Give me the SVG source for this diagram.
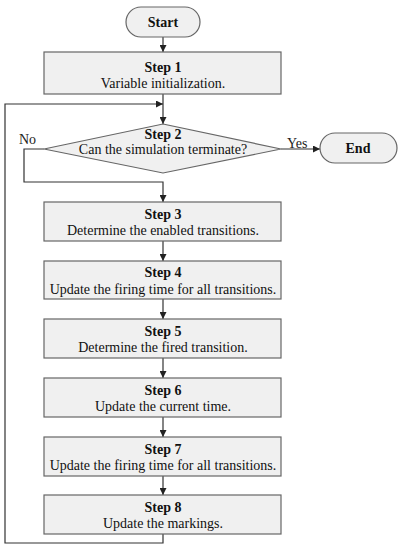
<svg xmlns="http://www.w3.org/2000/svg" width="402" height="550" viewBox="0 0 402 550">
<defs>
<marker id="ah" viewBox="0 0 10 10" refX="10" refY="5" markerWidth="7" markerHeight="7" markerUnits="userSpaceOnUse" orient="auto">
<path d="M0,0 L10,5 L0,10 z" fill="#222"/>
</marker>
<style>
.box{fill:#f0f0f0;stroke:#666;stroke-width:1.2}
.t{font-family:"Liberation Serif","Times New Roman",serif;font-size:14px;fill:#111;text-anchor:middle}
.b{font-weight:bold}
.l{font-family:"Liberation Serif","Times New Roman",serif;font-size:14px;fill:#222}
.c{fill:none;stroke:#555;stroke-width:1.2}
.ca{fill:none;stroke:#333;stroke-width:1.2;marker-end:url(#ah)}
</style>
</defs>
<rect width="402" height="550" fill="#fff"/>
<g id="connectors">
<line class="ca" x1="163" y1="37" x2="163" y2="52"/>
<line class="ca" x1="163" y1="94" x2="163" y2="124"/>
<polyline class="ca" points="163,534 163,543 5,543 5,104 163,104"/>
<polyline class="ca" points="44,149 24,149 24,182 163,182 163,202"/>
<line class="ca" x1="281" y1="149" x2="320" y2="149"/>
<line class="ca" x1="163" y1="241" x2="163" y2="261"/>
<line class="ca" x1="163" y1="299" x2="163" y2="319"/>
<line class="ca" x1="163" y1="358" x2="163" y2="378"/>
<line class="ca" x1="163" y1="417" x2="163" y2="437"/>
<line class="ca" x1="163" y1="476" x2="163" y2="495"/>
<text class="l" x="19" y="144">No</text>
<text class="l" x="287" y="148">Yes</text>
</g>
<g id="start">
<rect class="box" x="126" y="7" width="74" height="30" rx="15"/>
<text class="t b" x="163" y="27">Start</text>
</g>
<g id="step1">
<rect class="box" x="44" y="52" width="237" height="42"/>
<text class="t b" x="163" y="72">Step 1</text>
<text class="t" x="163" y="88">Variable initialization.</text>
</g>
<g id="step2">
<polygon class="box" points="163,124 281,149 163,173 44,149"/>
<text class="t b" x="163" y="139">Step 2</text>
<text class="t" x="163" y="154">Can the simulation terminate?</text>
</g>
<g id="end">
<rect class="box" x="320" y="133" width="77" height="30" rx="15"/>
<text class="t b" x="358" y="153">End</text>
</g>
<g id="step3">
<rect class="box" x="44" y="202" width="237" height="39"/>
<text class="t b" x="163" y="219">Step 3</text>
<text class="t" x="163" y="235">Determine the enabled transitions.</text>
</g>
<g id="step4">
<rect class="box" x="44" y="261" width="237" height="38"/>
<text class="t b" x="163" y="277">Step 4</text>
<text class="t" x="163" y="294">Update the firing time for all transitions.</text>
</g>
<g id="step5">
<rect class="box" x="44" y="319" width="237" height="39"/>
<text class="t b" x="163" y="336">Step 5</text>
<text class="t" x="163" y="352">Determine the fired transition.</text>
</g>
<g id="step6">
<rect class="box" x="44" y="378" width="237" height="39"/>
<text class="t b" x="163" y="395">Step 6</text>
<text class="t" x="163" y="411">Update the current time.</text>
</g>
<g id="step7">
<rect class="box" x="44" y="437" width="237" height="39"/>
<text class="t b" x="163" y="454">Step 7</text>
<text class="t" x="163" y="470">Update the firing time for all transitions.</text>
</g>
<g id="step8">
<rect class="box" x="44" y="495" width="237" height="39"/>
<text class="t b" x="163" y="512">Step 8</text>
<text class="t" x="163" y="528">Update the markings.</text>
</g>
</svg>
